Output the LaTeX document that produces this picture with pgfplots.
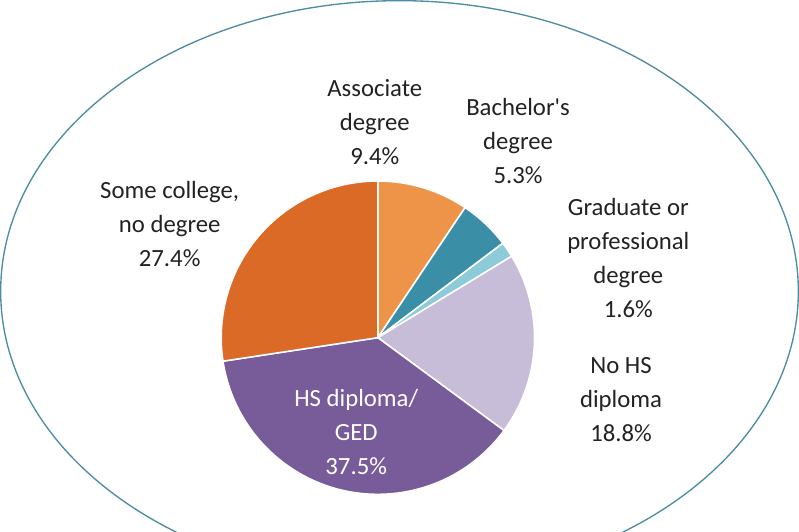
\documentclass[border=0pt]{standalone}
\usepackage{pgfplots}
\pgfplotsset{compat=1.18}
\usepackage{fontspec}
\setmainfont{Carlito}[Ligatures=TeXOff]
\definecolor{cSome}{HTML}{DC6A27}
\definecolor{cAssoc}{HTML}{EE9449}
\definecolor{cBach}{HTML}{3A8FA6}
\definecolor{cGrad}{HTML}{8DCBDA}
\definecolor{cNoHS}{HTML}{C7BDD9}
\definecolor{cHS}{HTML}{785C9A}
\definecolor{cEll}{HTML}{4D8CA3}
\definecolor{cTxt}{HTML}{222222}
\tikzset{lbl/.style={align=center, text=cTxt, font={\fontsize{24}{33}\selectfont}}}
% shares in percent, clockwise from the top
\pgfmathsetmacro\aA{90}
\pgfmathsetmacro\aB{\aA-3.6*9.4}  % Associate degree
\pgfmathsetmacro\aC{\aB-3.6*5.3}  % Bachelor's degree
\pgfmathsetmacro\aD{\aC-3.6*1.6}  % Graduate or professional degree
\pgfmathsetmacro\aE{\aD-3.6*18.8} % No HS diploma
\pgfmathsetmacro\aF{\aE-3.6*37.5} % HS diploma/GED
\pgfmathsetmacro\aG{\aF-3.6*27.4} % Some college, no degree
\def\R{152pt}
\begin{document}
\begin{tikzpicture}
\begin{axis}[
  scale only axis, width=799pt, height=527pt,
  xmin=0, xmax=799, ymin=0, ymax=527,
  axis lines=none, ticks=none, clip=true,
]
\draw[cEll, line width=1.3pt] (axis cs:402,233) ellipse [x radius=387pt, y radius=282pt];
\fill[cAssoc, draw=white, line width=1.5pt] (axis cs:381,188) -- ++(\aA:\R) arc[start angle=\aA, end angle=\aB, radius=\R] -- cycle;
\fill[cBach, draw=white, line width=1.5pt] (axis cs:381,188) -- ++(\aB:\R) arc[start angle=\aB, end angle=\aC, radius=\R] -- cycle;
\fill[cGrad, draw=white, line width=1.5pt] (axis cs:381,188) -- ++(\aC:\R) arc[start angle=\aC, end angle=\aD, radius=\R] -- cycle;
\fill[cNoHS, draw=white, line width=1.5pt] (axis cs:381,188) -- ++(\aD:\R) arc[start angle=\aD, end angle=\aE, radius=\R] -- cycle;
\fill[cHS, draw=white, line width=1.5pt] (axis cs:381,188) -- ++(\aE:\R) arc[start angle=\aE, end angle=\aF, radius=\R] -- cycle;
\fill[cSome, draw=white, line width=1.5pt] (axis cs:381,188) -- ++(\aF:\R) arc[start angle=\aF, end angle=\aG, radius=\R] -- cycle;
\node[lbl] at (axis cs:378,397) {Associate\\degree\\9.4\%};
\node[lbl] at (axis cs:517,379) {Bachelor's\\degree\\5.3\%};
\node[lbl] at (axis cs:624,265) {Graduate or\\professional\\degree\\1.6\%};
\node[lbl] at (axis cs:617,128) {No HS\\diploma\\18.8\%};
\node[lbl, text=white] at (axis cs:360,96) {HS diploma/\\GED\\37.5\%};
\node[lbl] at (axis cs:179,298) {Some college,\\no degree\\27.4\%};
\end{axis}
\end{tikzpicture}
\end{document}
